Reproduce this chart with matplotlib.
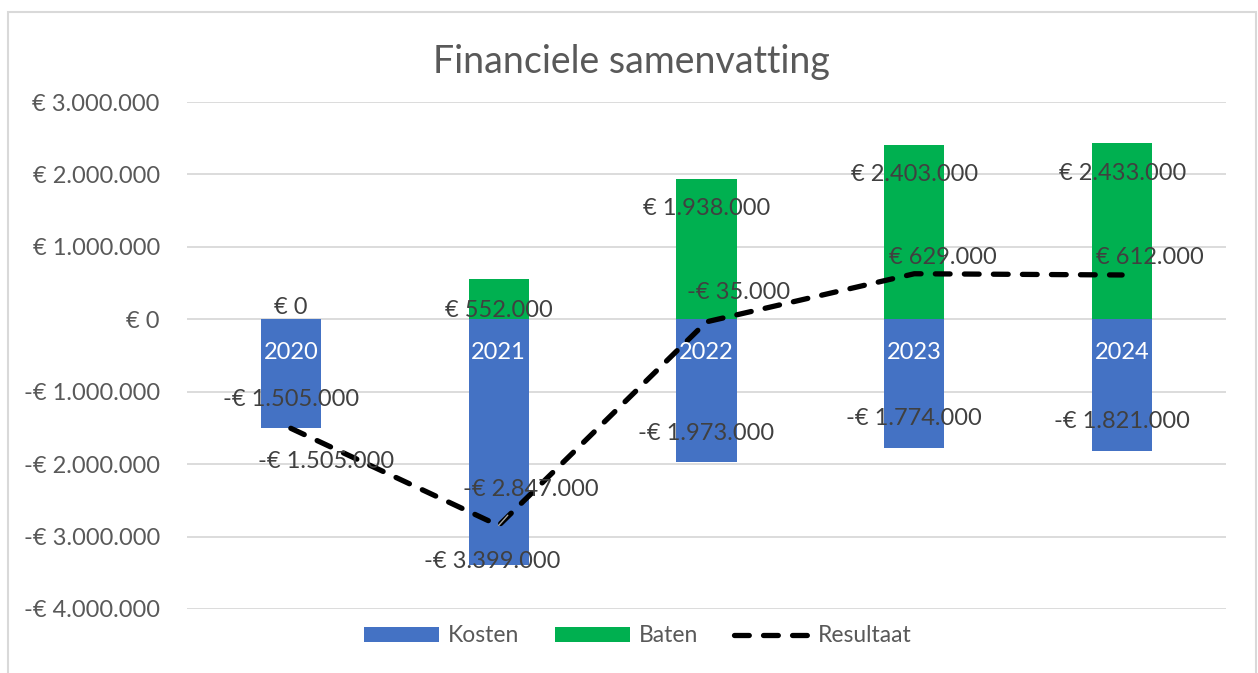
import matplotlib
matplotlib.use("Agg")
import matplotlib.pyplot as plt
from matplotlib.patches import Rectangle
import numpy as np

plt.rcParams['font.family'] = ['Lato', 'DejaVu Sans']

years = ["2020", "2021", "2022", "2023", "2024"]
kosten = [-1505000, -3399000, -1973000, -1774000, -1821000]
baten = [0, 552000, 1938000, 2403000, 2433000]
resultaat = [-1505000, -2847000, -35000, 629000, 612000]
yticks = [-4000000, -3000000, -2000000, -1000000, 0, 1000000, 2000000, 3000000]


def eur(v):
    s = f"{abs(v):,}".replace(",", ".")
    return ("-€ " if v < 0 else "€ ") + s


blue = "#4472C4"
green = "#00B050"
txt = "#404040"

fig = plt.figure(figsize=(12.58, 6.73), dpi=100)
ax = fig.add_axes([0.1486, 0.0951, 0.8260, 0.7533])
x = np.arange(len(years))
w = 0.29

hk = ax.bar(x, kosten, w, color=blue, label="Kosten", zorder=2)
hb = ax.bar(x, baten, w, color=green, label="Baten", zorder=2)
hr, = ax.plot(x, resultaat, color="black", lw=3.8, ls=(0, (2.8, 2.7)),
              dash_capstyle="round", label="Resultaat", zorder=3)

ax.set_xlim(-0.5, len(years) - 0.5)
ax.set_ylim(-4000000, 3000000)
ax.set_yticks(yticks)
ax.set_yticklabels([eur(v) for v in yticks])
ax.set_xticks([])
ax.tick_params(axis="y", length=0, pad=19.5, labelsize=17, labelcolor="#595959")
ax.grid(axis="y", color="#D9D9D9", lw=1.3, zorder=0)
for s in ax.spines.values():
    s.set_visible(False)

# year labels inside the blue bars
for i, y in enumerate(years):
    ax.annotate(y, (x[i], 0), xytext=(0, -33), textcoords="offset pixels",
                ha="center", va="center", color="white", fontsize=17, zorder=5)

# data labels (offsets in pixels)
k_off = [(0, 29), (-6, 4), (0, 29), (0, 29), (0, 30)]
b_off = [(0, 12), (0, -31), (0, -30), (0, -29), (0, -30)]
r_off = [(35, -33), (32, 36), (32, 29), (29, 16), (28, 17)]
for i in range(len(years)):
    ax.annotate(eur(kosten[i]), (x[i], kosten[i]), xytext=k_off[i],
                textcoords="offset pixels", ha="center", va="center",
                color=txt, fontsize=17, zorder=6)
    ax.annotate(eur(baten[i]), (x[i], baten[i]), xytext=b_off[i],
                textcoords="offset pixels", ha="center", va="center",
                color=txt, fontsize=17, zorder=6)
    arrow = None
    if i == 1:
        arrow = dict(arrowstyle="-", color="#A6A6A6", lw=1, shrinkA=12, shrinkB=0)
    ax.annotate(eur(resultaat[i]), (x[i], resultaat[i]), xytext=r_off[i],
                textcoords="offset pixels", ha="center", va="center",
                color=txt, fontsize=17, zorder=6, arrowprops=arrow)

fig.text(0.502, 0.908, "Financiele samenvatting", ha="center", va="center",
         fontsize=27, color="#595959")

fig.legend([hk, hb, hr], ["Kosten", "Baten", "Resultaat"], loc="center",
           bbox_to_anchor=(0.507, 0.055), ncol=3, frameon=False,
           fontsize=16.5, handlelength=3.27, handleheight=0.66, columnspacing=1.57,
           handletextpad=0.39, labelcolor="#595959")

fig.patches.append(Rectangle((8 / 1258, -0.01), 1248 / 1258, 1 - 12 / 673 + 0.01,
                             transform=fig.transFigure, fill=False,
                             edgecolor="#D9D9D9", lw=1.5))

fig.savefig("out.png", dpi=100, facecolor="white")
